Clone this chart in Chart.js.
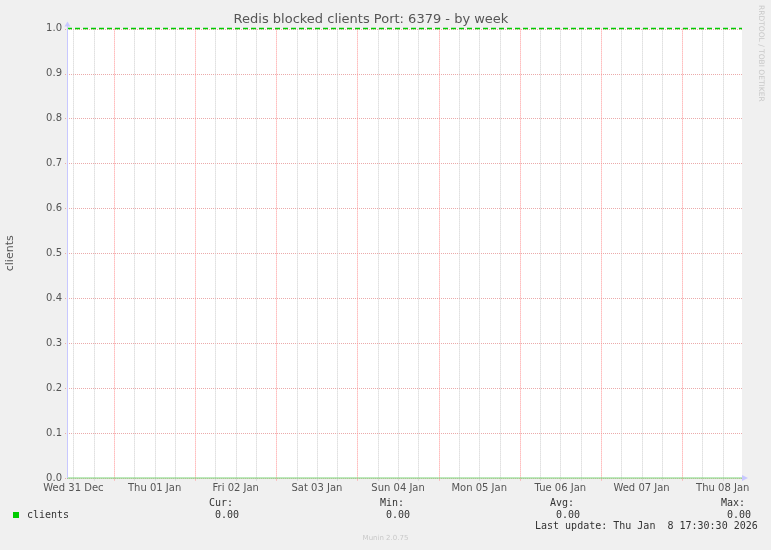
<!DOCTYPE html>
<html>
<head>
<meta charset="utf-8">
<script src="https://cdn.jsdelivr.net/npm/chart.js@4/dist/chart.umd.min.js"></script>
<style>
  body { margin: 0; background: #f0f0f0; }
  #wrap { position: relative; width: 771px; height: 550px; overflow: hidden; }
  .t { position: absolute; font-family: "DejaVu Sans Mono", monospace; font-size: 10px; line-height: 12px; color: #333; white-space: pre; }
  #swatch { position: absolute; left: 13px; top: 512px; width: 6px; height: 6px; background: #00cc00; }
  #munin { position: absolute; left: 0; width: 771px; top: 534px; text-align: center; font-family: "DejaVu Sans", sans-serif; font-size: 7px; color: #c8c8c8; }
  #rrd { position: absolute; left: 757px; top: 5px; writing-mode: vertical-rl; font-family: "DejaVu Sans", sans-serif; font-size: 7.5px; color: #c8c8c8; }
</style>
</head>
<body>
<div id="wrap">
  <canvas id="lineChart" width="771" height="550"></canvas>
  <div id="rrd">RRDTOOL / TOBI OETIKER</div>
  <div id="swatch"></div>
  <div class="t" style="left:27px;top:509px">clients</div>
  <div class="t" style="left:209px;top:497px">Cur:</div>
  <div class="t" style="left:215px;top:509px">0.00</div>
  <div class="t" style="left:380px;top:497px">Min:</div>
  <div class="t" style="left:386px;top:509px">0.00</div>
  <div class="t" style="left:550px;top:497px">Avg:</div>
  <div class="t" style="left:556px;top:509px">0.00</div>
  <div class="t" style="left:721px;top:497px">Max:</div>
  <div class="t" style="left:727px;top:509px">0.00</div>
  <div class="t" style="left:535px;top:520px">Last update: Thu Jan  8 17:30:30 2026</div>
  <div id="munin">Munin 2.0.75</div>
</div>
<script>
// hours since graph start (Wed 31 Dec ~10:06), week view
var rangeHours = 199.6;
var sampleHours = [0, 13.9, 37.9, 61.9, 85.9, 109.9, 133.9, 157.9, 181.9, 199.6];
var clients = [0, 0, 0, 0, 0, 0, 0, 0, 0, 0];
var upperRule = [1, 1];
var upperRuleHours = [0, 199.6];
var dayLabels = ["Wed 31 Dec", "Thu 01 Jan", "Fri 02 Jan", "Sat 03 Jan", "Sun 04 Jan",
                 "Mon 05 Jan", "Tue 06 Jan", "Wed 07 Jan", "Thu 08 Jan"];
var firstNoonHour = 1.9;

var gridHours = [];
for (var h = firstNoonHour; h < rangeHours; h += 6) gridHours.push(h);

function isMidnight(v) { return Math.abs(((v - firstNoonHour) % 24) - 12) < 0.01; }
function dayLabel(v) {
  var k = Math.round((v - firstNoonHour) / 24);
  return Math.abs(v - firstNoonHour - k * 24) < 0.01 ? dayLabels[k] : '';
}

// rrdtool style dotted grid, snapped to whole pixels
var rrdGrid = {
  id: 'rrdGrid',
  beforeDraw: function (chart) {
    var a = chart.chartArea, ctx = chart.ctx;
    ctx.save();
    ctx.fillStyle = '#ffffff';
    ctx.fillRect(a.left, a.top, a.right - a.left, a.bottom - a.top);
    ctx.restore();
  },
  beforeDatasetsDraw: function (chart) {
    var a = chart.chartArea, ctx = chart.ctx;
    var xs = chart.scales.x, ys = chart.scales.y;
    ctx.save();
    ctx.lineWidth = 1;
    ctx.setLineDash([1, 1]);
    ys.ticks.forEach(function (t) {
      var py = Math.round(ys.getPixelForValue(t.value)) + 0.5;
      ctx.strokeStyle = 'rgb(235, 170, 170)';
      ctx.beginPath();
      ctx.moveTo(a.left - 2, py);
      ctx.lineTo(a.right, py);
      ctx.stroke();
    });
    xs.ticks.forEach(function (t) {
      var px = Math.round(xs.getPixelForValue(t.value)) + 0.5;
      ctx.strokeStyle = isMidnight(t.value) ? 'rgb(255, 150, 150)' : 'rgb(205, 205, 205)';
      ctx.beginPath();
      ctx.moveTo(px, a.top);
      ctx.lineTo(px, a.bottom + 3);
      ctx.stroke();
    });
    ctx.restore();
  },
  afterDraw: function (chart) {
    var a = chart.chartArea, ctx = chart.ctx;
    var left = Math.round(a.left) + 0.5;
    ctx.save();
    ctx.strokeStyle = '#c8c8ff';
    ctx.fillStyle = '#c8c8ff';
    ctx.lineWidth = 1;
    ctx.beginPath();
    ctx.moveTo(left, a.bottom);
    ctx.lineTo(left, a.top - 4);
    ctx.stroke();
    ctx.beginPath();
    ctx.moveTo(left - 3, a.top - 2);
    ctx.lineTo(left + 3, a.top - 2);
    ctx.lineTo(left, a.top - 7);
    ctx.fill();
    ctx.beginPath();
    ctx.moveTo(a.right, a.bottom - 3);
    ctx.lineTo(a.right, a.bottom + 3);
    ctx.lineTo(a.right + 6, a.bottom);
    ctx.fill();
    ctx.restore();
  }
};

var chartCtx = document.getElementById("lineChart").getContext('2d');
var lineChart = new Chart(chartCtx, {
  type: 'line',
  data: {
    datasets: [{
        label: "clients",
        data: sampleHours.map(function (x, i) { return {x: x, y: clients[i]}; }),
        borderColor: 'rgb(120, 215, 120)',
        borderWidth: 1,
        pointRadius: 0,
        clip: 3,
        fill: false
      },
      {
        label: "limit",
        data: upperRuleHours.map(function (x, i) { return {x: x, y: upperRule[i]}; }),
        borderColor: '#00cc00',
        borderWidth: 1.5,
        borderDash: [5, 3],
        pointRadius: 0,
        clip: 3,
        fill: false
      }
    ]
  },
  options: {
    responsive: false,
    animation: false,
    layout: { padding: { left: 0, right: 29, top: 0, bottom: 52 } },
    plugins: {
      legend: { display: false },
      tooltip: { enabled: false },
      title: {
        display: true,
        text: 'Redis blocked clients Port: 6379 - by week',
        color: '#555',
        font: { family: 'DejaVu Sans', size: 13, weight: 'normal', lineHeight: 1.2 },
        padding: { top: 12, bottom: 1 }
      }
    },
    scales: {
      x: {
        type: 'linear',
        min: 0,
        max: rangeHours,
        afterBuildTicks: function (scale) {
          scale.ticks = gridHours.map(function (v) { return {value: v}; });
        },
        afterFit: function (scale) { scale.height = 20; },
        ticks: {
          autoSkip: false,
          maxRotation: 0,
          padding: 1,
          color: '#555',
          font: { family: 'DejaVu Sans', size: 10 },
          callback: function (v) { return dayLabel(v); }
        },
        grid: { display: false, drawTicks: true, tickLength: 3 },
        border: { display: false }
      },
      y: {
        min: 0,
        max: 1,
        afterFit: function (scale) { scale.width = 67; },
        ticks: {
          stepSize: 0.1,
          padding: 3,
          color: '#555',
          font: { family: 'DejaVu Sans', size: 10 },
          callback: function (v) { return v.toFixed(1); }
        },
        grid: { display: false, drawTicks: true, tickLength: 2 },
        border: { display: false },
        title: {
          display: true,
          text: 'clients',
          color: '#555',
          font: { family: 'DejaVu Sans', size: 11 },
          padding: { top: 4, bottom: 0 }
        }
      }
    }
  },
  plugins: [rrdGrid]
});
</script>
</body>
</html>
